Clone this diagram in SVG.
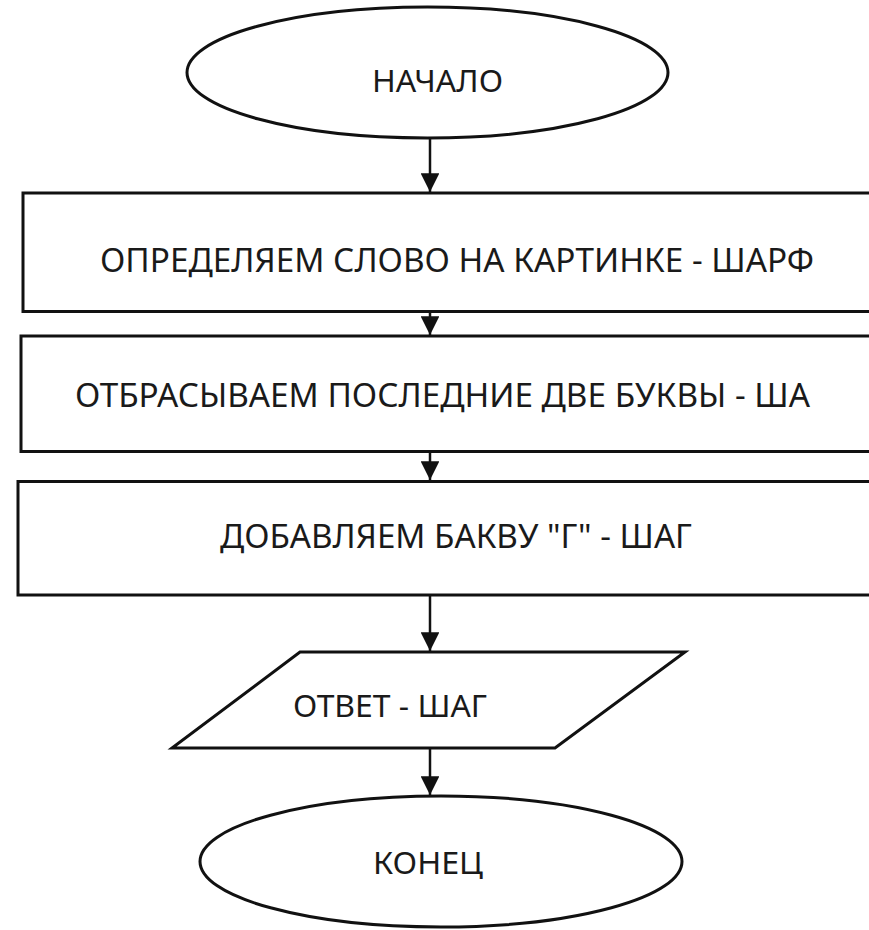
<svg xmlns="http://www.w3.org/2000/svg" width="869" height="930" viewBox="0 0 869 930">
<style>
.shape{fill:#ffffff;stroke:#111111;stroke-width:3}
.conn{stroke:#111111;stroke-width:2.5;fill:none}
.lbl{font-family:"Noto Sans","Open Sans","DejaVu Sans",sans-serif;font-size:30px;fill:#1a1a1a}
.big{font-size:33px}
</style>
<defs>
<marker id="arr" viewBox="0 0 10 10" refX="10" refY="5" markerWidth="8" markerHeight="7.5" markerUnits="strokeWidth" orient="auto">
<path d="M0,0 L10,5 L0,10 z" fill="#111111"/>
</marker>
</defs>
<rect x="0" y="0" width="869" height="930" fill="#ffffff"/>
<g id="start">
<ellipse class="shape" cx="427.5" cy="72.5" rx="240.5" ry="65.5"/>
<text class="lbl" x="372" y="92" textLength="131" lengthAdjust="spacingAndGlyphs">НАЧАЛО</text>
</g>
<g id="step1">
<rect class="shape" x="23" y="193" width="860" height="118.5"/>
<text class="lbl big" x="100" y="272" textLength="714" lengthAdjust="spacingAndGlyphs">ОПРЕДЕЛЯЕМ СЛОВО НА КАРТИНКЕ - ШАРФ</text>
</g>
<g id="step2">
<rect class="shape" x="21" y="336" width="862" height="115.5"/>
<text class="lbl big" x="75" y="407" textLength="735" lengthAdjust="spacingAndGlyphs">ОТБРАСЫВАЕМ ПОСЛЕДНИЕ ДВЕ БУКВЫ - ША</text>
</g>
<g id="step3">
<rect class="shape" x="18" y="481.5" width="865" height="113.5"/>
<text class="lbl big" x="220" y="548" textLength="472" lengthAdjust="spacingAndGlyphs">ДОБАВЛЯЕМ БАКВУ "Г" - ШАГ</text>
</g>
<g id="output">
<polygon class="shape" points="300,652 685,652 555,748 172,748"/>
<text class="lbl" x="293" y="717" textLength="194" lengthAdjust="spacingAndGlyphs">ОТВЕТ - ШАГ</text>
</g>
<g id="end">
<ellipse class="shape" cx="441" cy="861.5" rx="241" ry="65.5"/>
<text class="lbl" x="373" y="874" textLength="110" lengthAdjust="spacingAndGlyphs">КОНЕЦ</text>
</g>
<g id="connectors">
<line class="conn" x1="430" y1="138" x2="430" y2="192" marker-end="url(#arr)"/>
<line class="conn" x1="430" y1="311.5" x2="430" y2="335" marker-end="url(#arr)"/>
<line class="conn" x1="430" y1="451.5" x2="430" y2="480" marker-end="url(#arr)"/>
<line class="conn" x1="430" y1="595" x2="430" y2="651" marker-end="url(#arr)"/>
<line class="conn" x1="430" y1="748" x2="430" y2="795" marker-end="url(#arr)"/>
</g>
</svg>
